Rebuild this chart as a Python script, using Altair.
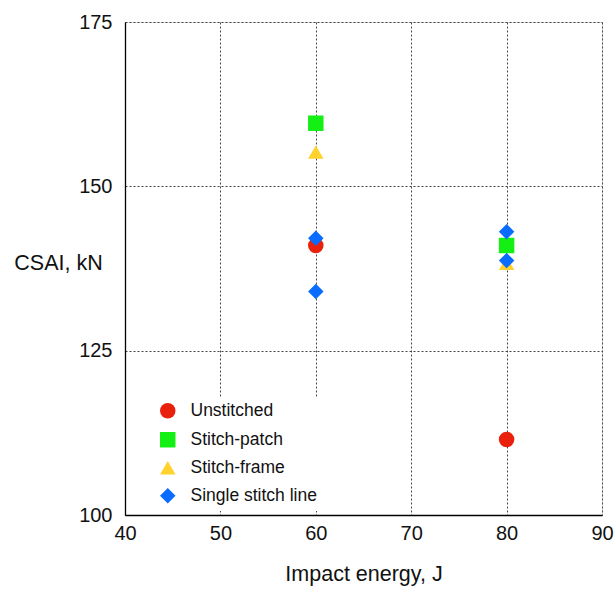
import altair as alt
import pandas as pd

series = ["Unstitched", "Stitch-patch", "Stitch-frame", "Single stitch line"]
energy_unstitched = [60, 80]
csai_unstitched = [141.0, 111.5]
energy_patch = [60, 80]
csai_patch = [159.6, 141.0]
energy_frame = [60, 80]
csai_frame = [155.2, 138.3]
energy_single = [60, 60, 80, 80]
csai_single = [142.1, 134.0, 143.1, 138.7]

colors = ["#e8200c", "#14f014", "#ffd22e", "#0a6cff"]
shapes = ["circle", "square", "triangle-up", "diamond"]
x_ticks = [40, 50, 60, 70, 80, 90]
y_ticks = [100, 125, 150, 175]

rows = []
for name, xs, ys in [
    (series[0], energy_unstitched, csai_unstitched),
    (series[1], energy_patch, csai_patch),
    (series[2], energy_frame, csai_frame),
    (series[3], energy_single, csai_single),
]:
    for x, y in zip(xs, ys):
        rows.append({"series": name, "energy": x, "csai": y})
df = pd.DataFrame(rows)

FONT = "Liberation Sans"
W, H = 477, 493

chart = alt.Chart(df).mark_point(filled=True, opacity=1, size=240).encode(
    x=alt.X("energy:Q",
            scale=alt.Scale(domain=[40, 90], nice=False, zero=False),
            axis=alt.Axis(values=x_ticks, title="Impact energy, J", grid=True,
                          gridColor="#444444", gridDash=[2, 2], gridWidth=1,
                          domainColor="#000000", domainWidth=1.3, ticks=False,
                          labelFlush=False,
                          labelFontSize=20, labelFont=FONT, labelColor="#111111",
                          labelPadding=8, titleFontSize=21.5, titleFont=FONT,
                          titleFontWeight="normal", titleColor="#111111",
                          titlePadding=20)),
    y=alt.Y("csai:Q",
            scale=alt.Scale(domain=[100, 175], nice=False, zero=False),
            axis=alt.Axis(values=y_ticks, title="CSAI, kN", grid=True,
                          gridColor="#444444", gridDash=[2, 2], gridWidth=1,
                          domainColor="#000000", domainWidth=1.3, ticks=False,
                          labelFlush=False,
                          labelFontSize=20, labelFont=FONT, labelColor="#111111",
                          labelPadding=13, titleFontSize=21.5, titleFont=FONT,
                          titleFontWeight="normal", titleColor="#111111",
                          titleAngle=0, titleAlign="center", titleBaseline="middle",
                          titleX=-67, titleY=241)),
    color=alt.Color("series:N", scale=alt.Scale(domain=series, range=colors),
                    legend=alt.Legend(title=None, orient="none", legendX=30, legendY=376,
                                      fillColor="#ffffff", padding=4,
                                      labelFont=FONT, labelFontSize=17.5, labelColor="#111111",
                                      symbolSize=240, rowPadding=7, labelOffset=14,
                                      symbolOpacity=1)),
    shape=alt.Shape("series:N", scale=alt.Scale(domain=series, range=shapes)),
).properties(
    width=W, height=H,
    autosize=alt.AutoSizeParams(type="none"),
    padding={"left": 125, "top": 22, "right": 14, "bottom": 74},
).configure_view(stroke=None).configure(background="#ffffff")

chart.save("out.html", embed_options={"renderer": "svg", "actions": False})
